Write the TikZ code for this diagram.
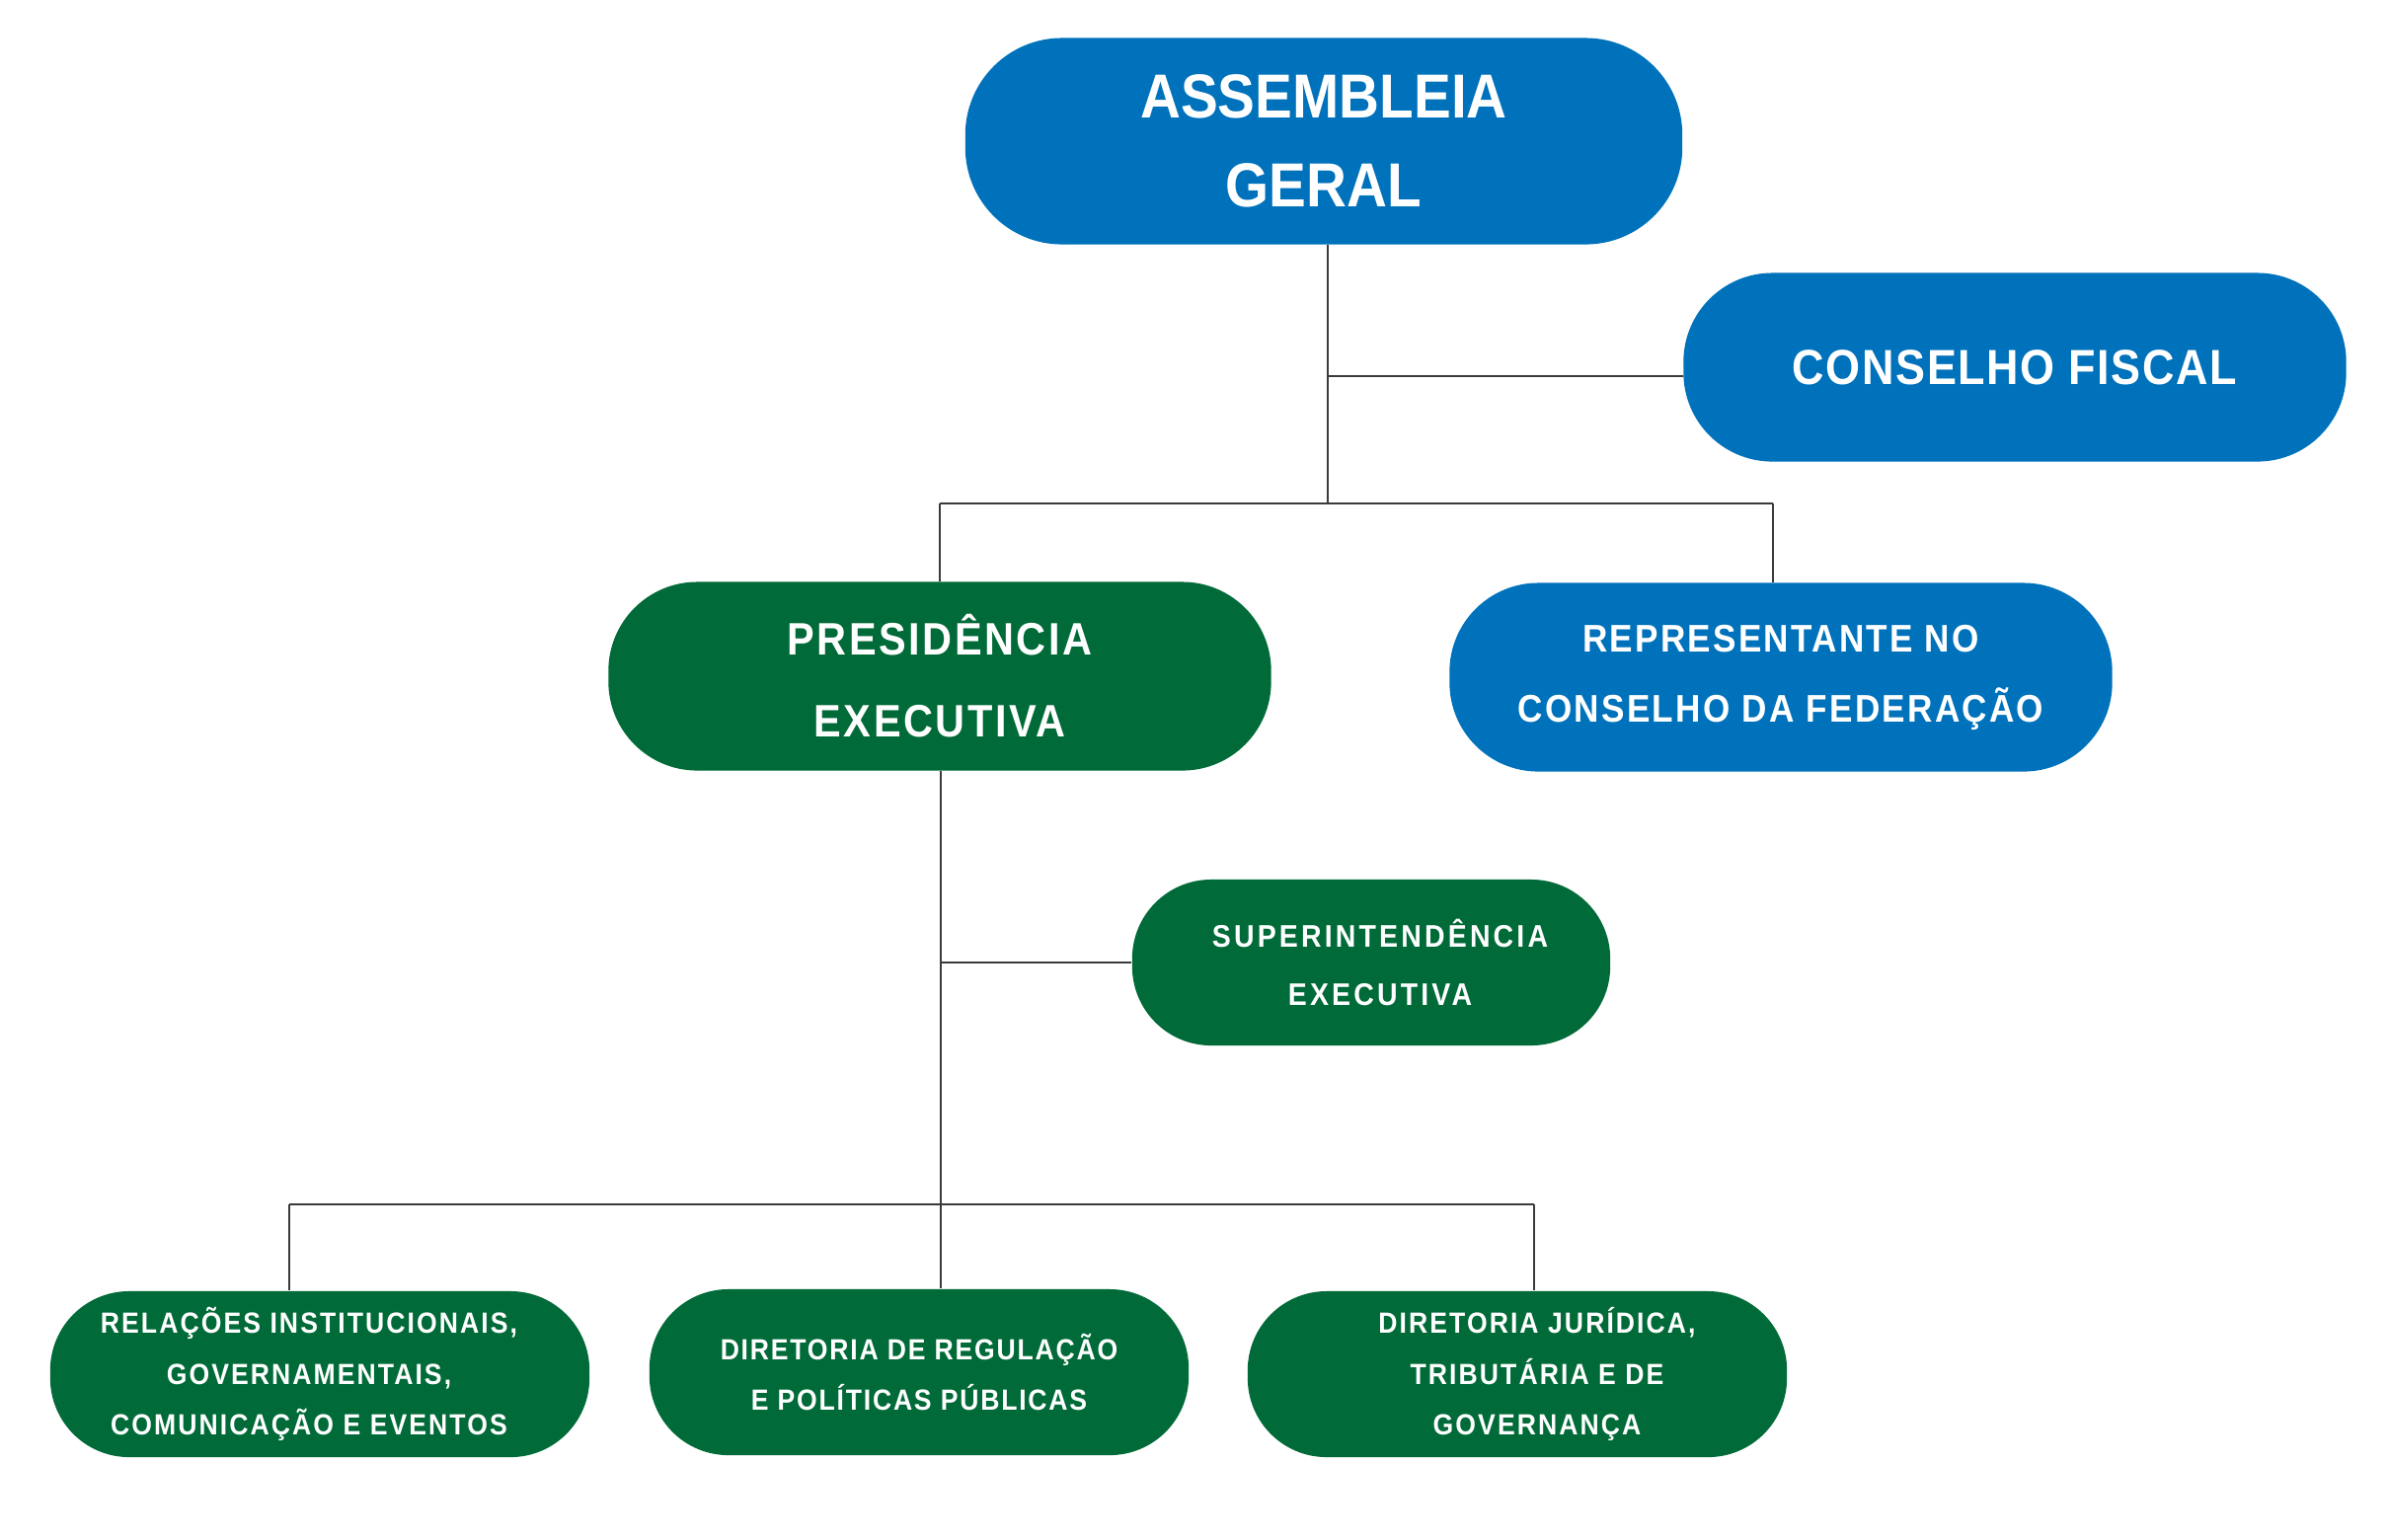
\documentclass[tikz,border=0pt]{standalone}
\usepackage{fontspec}
\setmainfont{Liberation Sans}[FakeStretch=0.9]
\definecolor{orgblue}{HTML}{0072BC}
\definecolor{orggreen}{HTML}{006B38}
\definecolor{linegray}{HTML}{3A3A3A}

\tikzstyle{box} = [rectangle, text=white, inner sep=0pt, align=center, font=\bfseries]
\tikzstyle{bluebox} = [box, fill=orgblue]
\tikzstyle{greenbox} = [box, fill=orggreen]
\tikzstyle{big} = [minimum width=6.71cm, minimum height=1.91cm, rounded corners=0.9cm]
\tikzstyle{small} = [minimum width=5.46cm, minimum height=1.68cm, rounded corners=0.8cm]
\tikzstyle{link} = [draw=linegray, line width=0.7pt]

\begin{document}
\begin{tikzpicture}[x=0.01cm, y=-0.01cm]
	\useasboundingbox[fill=white] (0,0) rectangle (2418,1559);

	\node[bluebox, minimum width=7.26cm, minimum height=2.09cm, rounded corners=0.98cm,
		font=\bfseries\fontsize{17.9}{25.6}\selectfont] (asm) at (1341,143) {ASSEMBLEIA\\GERAL};
	\node[bluebox, big, font=\bfseries\fontsize{14.2}{18}\selectfont\addfontfeature{LetterSpace=3.2}] (fiscal) at (2041,372) {CONSELHO FISCAL};
	\node[greenbox, big, font=\bfseries\fontsize{13.1}{23.6}\selectfont\addfontfeature{LetterSpace=5.5}] (pres) at (952,685) {PRESIDÊNCIA\\EXECUTIVA};
	\node[bluebox, big, font=\bfseries\fontsize{11.1}{20.2}\selectfont\addfontfeature{LetterSpace=5.8}] (rep) at (1804,686) {REPRESENTANTE NO\\CONSELHO DA FEDERAÇÃO};
	\node[greenbox, small, minimum width=4.84cm, font=\bfseries\fontsize{9}{17}\selectfont\addfontfeature{LetterSpace=10}] (sup) at (1389,975) {\hspace{0.18cm}SUPERINTENDÊNCIA\\\hspace{0.18cm}EXECUTIVA};

	\node[greenbox, small, font=\bfseries\fontsize{8.4}{14.6}\selectfont\addfontfeature{LetterSpace=7}] (rel) at (324,1392) {\begin{tabular}{@{}c@{\hspace{0.22cm}}}RELAÇÕES INSTITUCIONAIS,\\GOVERNAMENTAIS,\\COMUNICAÇÃO E EVENTOS\end{tabular}};
	\node[greenbox, small, font=\bfseries\fontsize{8.4}{14.6}\selectfont\addfontfeature{LetterSpace=6}] (reg) at (931,1390) {DIRETORIA DE REGULAÇÃO\\E POLÍTICAS PÚBLICAS};
	\node[greenbox, small, font=\bfseries\fontsize{8.4}{14.6}\selectfont\addfontfeature{LetterSpace=7}] (jur) at (1537,1392) {\hspace{0.4cm}DIRETORIA JURÍDICA,\\\hspace{0.4cm}TRIBUTÁRIA E DE\\\hspace{0.4cm}GOVERNANÇA};

	\coordinate (hub) at (1345,510);
	\coordinate (fisc) at (1345,381);
	\coordinate (repc) at (1796,510);
	\coordinate (bus) at (953,1220);
	\coordinate (relc) at (293,1220);
	\coordinate (jurc) at (1554,1220);

	\draw[link] (asm.south -| hub) -- (hub);
	\draw[link] (fisc) -- (fisc -| fiscal.west);
	\draw[link] (pres.north |- hub) -- (repc);
	\draw[link] (pres.north |- hub) -- (pres.north);
	\draw[link] (repc) -- (repc |- rep.north);

	\draw[link] (pres.south -| bus) -- (bus |- reg.north);
	\draw[link] (bus |- sup.west) -- (sup.west);
	\draw[link] (relc) -- (jurc);
	\draw[link] (relc) -- (relc |- rel.north);
	\draw[link] (jurc) -- (jurc |- jur.north);
\end{tikzpicture}
\end{document}
